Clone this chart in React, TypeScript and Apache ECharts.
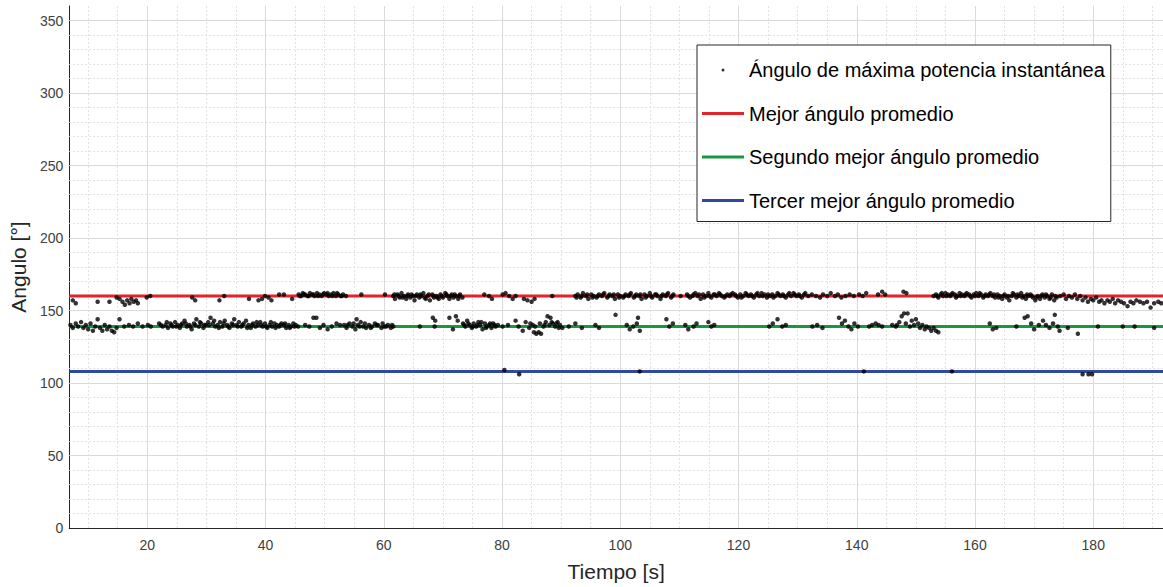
import React, { useEffect, useRef } from 'react';
import * as echarts from 'echarts';

const tituloX = 'Tiempo [s]';
const tituloY = 'Angulo [°]';
const nombreDispersion = 'Ángulo de máxima potencia instantánea';
const nombreMejor = 'Mejor ángulo promedio';
const nombreSegundo = 'Segundo mejor ángulo promedio';
const nombreTercero = 'Tercer mejor ángulo promedio';

const xMin = 6.8;
const xMax = 191.8;
const yMin = 0;
const yMax = 360;

const ticksX = [20, 40, 60, 80, 100, 120, 140, 160, 180];
const ticksY = [0, 50, 100, 150, 200, 250, 300, 350];
const rejillaMenorX = [10, 15, 25, 30, 35, 45, 50, 55, 65, 70, 75, 85, 90, 95, 105, 110, 115, 125, 130, 135, 145, 150, 155, 165, 170, 175, 185, 190];
const rejillaMenorY = [10, 20, 30, 40, 60, 70, 80, 90, 110, 120, 130, 140, 160, 170, 180, 190, 210, 220, 230, 240, 260, 270, 280, 290, 310, 320, 330, 340];

const mejorAngulo = 160;
const segundoAngulo = 139;
const tercerAngulo = 108;

const puntosMejor: [number, number][] = [
  [7.4, 157], [7.9, 155], [11.6, 156], [13.6, 156], [14.8, 159], [15.3, 158], [15.8, 156], [16.2, 154], [16.6, 157], [17.0, 155], [17.3, 158], [17.7, 156], [18.1, 157], [18.4, 155], [19.9, 159], [20.5, 160],
  [27.6, 159], [28.1, 157], [32.2, 157], [33.0, 160], [37.2, 158], [38.8, 157], [39.4, 158], [39.9, 160], [40.5, 159], [41.0, 157], [42.3, 161], [43.1, 161], [44.5, 158],
  [45.6, 161], [46.0, 160], [46.3, 162], [46.7, 161], [47.1, 160], [47.5, 162], [47.9, 161], [48.3, 160], [48.7, 162], [49.1, 161], [49.5, 160], [49.9, 162], [50.3, 161], [50.7, 160], [51.1, 161], [51.5, 162], [51.9, 160], [52.3, 161], [52.7, 160], [53.1, 161], [53.6, 160],
  [45.8, 160], [46.5, 161], [47.3, 160], [48.1, 161], [48.9, 160], [49.7, 161], [50.5, 162], [51.3, 160], [52.1, 162], [52.9, 160],
  [56.2, 161], [60.2, 161],
  [61.6, 160], [61.9, 158], [62.3, 161], [62.7, 159], [63.0, 162], [63.4, 160], [63.8, 158], [64.1, 161], [64.5, 159], [64.9, 160], [65.2, 157], [65.6, 161], [66.0, 159], [66.3, 160], [66.7, 162], [67.1, 158], [67.4, 160], [67.8, 157], [68.2, 161], [68.5, 159], [68.9, 160], [69.3, 158], [69.6, 161], [70.0, 159], [70.4, 162], [70.7, 160], [71.1, 158], [71.5, 161], [71.8, 159], [72.2, 160], [72.6, 158], [72.9, 161], [73.3, 159],
  [61.8, 161], [62.5, 160], [63.2, 159], [64.0, 160], [64.7, 161], [65.4, 160], [66.2, 161], [66.9, 159], [67.6, 161], [68.4, 160], [69.1, 159], [69.8, 160], [70.6, 161], [71.3, 160], [72.0, 161], [72.8, 160],
  [77.0, 161], [77.8, 160], [78.3, 158],
  [80.1, 161], [80.6, 162], [81.2, 160], [81.8, 158], [82.3, 160], [83.7, 158], [84.3, 157], [85.0, 156], [85.5, 158], [88.5, 160],
  [92.4, 160], [92.8, 161], [93.3, 159], [93.7, 162], [94.2, 160], [94.6, 158], [95.1, 161], [95.5, 160], [96.0, 159], [96.4, 161], [96.9, 160], [97.3, 162], [97.8, 159], [98.2, 161], [98.7, 160], [99.1, 158], [99.6, 161],
  [100.0, 160], [100.5, 159], [100.9, 161], [101.4, 160], [101.8, 162], [102.3, 159], [102.7, 161], [103.2, 160], [103.6, 158], [104.1, 161], [104.5, 160], [105.0, 162], [105.4, 159], [105.9, 161], [106.3, 160], [106.8, 158], [107.2, 161], [107.7, 160], [108.1, 162], [108.6, 159], [109.0, 161], [110.2, 160],
  [111.3, 161], [111.8, 159], [112.2, 160], [112.7, 162], [113.1, 160], [113.6, 158], [114.0, 161], [114.5, 160], [114.9, 162], [115.4, 159], [115.8, 161], [116.3, 160], [116.7, 162], [117.2, 160], [117.6, 159], [118.1, 161], [118.5, 160], [119.0, 162], [119.4, 161], [119.9, 159],
  [120.3, 161], [120.8, 160], [121.2, 162], [121.7, 160], [122.1, 161], [122.6, 159], [123.0, 161], [123.5, 160], [123.9, 162], [124.4, 161], [124.8, 159], [125.3, 160], [125.7, 161], [126.2, 160], [126.6, 162], [127.1, 160], [127.5, 161], [128.0, 159], [128.4, 161], [128.9, 160], [129.3, 162], [129.8, 160], [130.2, 161], [130.7, 159], [131.1, 161],
  [92.6, 159], [93.5, 160], [94.4, 161], [95.3, 159], [96.2, 160], [97.1, 161], [98.0, 160], [98.9, 161], [99.8, 159], [100.7, 160], [101.6, 161], [102.5, 160], [103.4, 161], [104.3, 159], [105.2, 160], [106.1, 161], [107.0, 160], [107.9, 161], [108.8, 160],
  [111.5, 160], [112.4, 161], [113.3, 161], [114.2, 159], [115.1, 160], [116.0, 161], [116.9, 161], [117.8, 160], [118.7, 161], [119.6, 160], [120.5, 159], [121.4, 161], [122.3, 160], [123.2, 162], [124.1, 160], [125.0, 161], [125.9, 159], [126.8, 161], [127.7, 160], [128.6, 162], [129.5, 161], [130.4, 160], [131.3, 162],
  [131.8, 160], [132.4, 161], [133.1, 160], [133.8, 159], [134.3, 161], [135.0, 160], [135.6, 162], [136.3, 160], [136.8, 161], [137.4, 159], [138.1, 160], [138.8, 161], [139.5, 160], [140.4, 161], [141.0, 160], [141.6, 162], [143.6, 161], [144.3, 163], [144.8, 161],
  [147.9, 163], [148.4, 162], [153.0, 160],
  [153.4, 161], [153.8, 159], [154.2, 161], [154.6, 160], [155.0, 162], [155.4, 161], [155.8, 160], [156.2, 162], [156.6, 161], [157.0, 160], [157.4, 162], [157.8, 161], [158.2, 160], [158.6, 162], [159.0, 161], [159.4, 159], [159.8, 161],
  [160.2, 162], [160.6, 160], [161.0, 161], [161.4, 159], [161.8, 161], [162.2, 160], [162.6, 162], [163.0, 160], [163.4, 159], [163.8, 161], [164.2, 160], [164.6, 158], [165.0, 161], [165.4, 159], [165.8, 157], [166.2, 160], [166.6, 161], [167.0, 159], [167.4, 160], [167.8, 162], [168.2, 160], [168.6, 158], [169.0, 160], [169.4, 161], [169.8, 159],
  [153.6, 160], [154.4, 162], [155.2, 160], [156.0, 161], [156.8, 159], [157.6, 160], [158.4, 161], [159.2, 160], [160.0, 160], [160.8, 162], [161.6, 160], [162.4, 161], [163.2, 161], [164.0, 159], [164.8, 160], [165.6, 160], [166.4, 162], [167.2, 161], [168.0, 159], [168.8, 161], [169.6, 160], [170.4, 159], [171.2, 160], [172.0, 161], [172.8, 159], [173.6, 160],
  [170.2, 157], [170.6, 160], [171.0, 158], [171.4, 161], [171.8, 159], [172.2, 160], [172.6, 158], [173.0, 161], [173.4, 157], [173.8, 159], [174.4, 160], [175.0, 161], [175.4, 158], [175.9, 160], [176.4, 159], [176.9, 161],
  [177.3, 158], [177.8, 160], [178.2, 157], [178.7, 159], [179.1, 156], [179.6, 158], [180.0, 157], [180.5, 159], [181.0, 156], [181.4, 157], [181.9, 155], [182.4, 157], [182.8, 156], [183.3, 158], [183.7, 155], [184.2, 157], [184.7, 156], [185.2, 155], [185.8, 153], [186.3, 156], [186.8, 155], [187.3, 157], [187.9, 156], [188.5, 155], [189.1, 156], [189.7, 152], [190.3, 155], [191.0, 156], [191.5, 155],
];

const puntosSegundo: [number, number][] = [
  [7.0, 140], [7.4, 138], [7.9, 141], [8.3, 139], [8.8, 142], [9.2, 138], [9.6, 140], [10.0, 137], [10.4, 141], [10.8, 136], [11.2, 139], [11.6, 144], [12.0, 138], [12.4, 136], [12.8, 140], [13.2, 137], [13.6, 139], [14.0, 136], [14.4, 135], [14.8, 138], [15.3, 144], [16.1, 139], [16.9, 140], [17.6, 139], [18.4, 141], [19.2, 139], [20.1, 140], [20.6, 139],
  [22.0, 141], [22.6, 139], [23.1, 140], [23.5, 138], [23.9, 141], [24.3, 139], [24.7, 142], [25.1, 140], [25.5, 138], [25.9, 141], [26.3, 143], [26.7, 139], [27.1, 140], [27.5, 137], [27.9, 141], [28.3, 144], [28.7, 139], [29.1, 141], [29.5, 138], [29.9, 140],
  [30.3, 142], [30.7, 145], [31.1, 141], [31.5, 139], [31.9, 140], [32.3, 142], [32.7, 139], [33.1, 143], [33.5, 140], [33.9, 138], [34.3, 141], [34.7, 144], [35.1, 140], [35.5, 142], [35.9, 139], [36.3, 141], [36.7, 143], [37.1, 140], [37.5, 138], [37.9, 141], [38.3, 139], [38.7, 140], [39.1, 142], [39.5, 139], [39.9, 141],
  [40.3, 138], [40.7, 140], [41.1, 139], [41.5, 141], [41.9, 140], [42.3, 139], [42.7, 141], [43.1, 140], [43.5, 138], [43.9, 140], [44.3, 139], [44.7, 141], [45.1, 140], [45.5, 139],
  [22.3, 140], [23.3, 142], [24.1, 140], [24.9, 139], [25.7, 140], [26.5, 141], [27.3, 139], [28.1, 140], [28.9, 142], [29.7, 140], [30.5, 140], [31.3, 143], [32.1, 138], [32.9, 141], [33.7, 139], [34.5, 140], [35.3, 139], [36.1, 140], [36.9, 138], [37.7, 140], [38.5, 142], [39.3, 140], [40.1, 139], [40.9, 142], [41.7, 138], [42.5, 140], [43.3, 141], [44.1, 138], [44.9, 139],
  [46.7, 140], [47.4, 139], [48.1, 145], [48.6, 145], [49.2, 138], [49.8, 140], [50.5, 137], [51.2, 139], [52.0, 141], [52.6, 140], [53.3, 140],
  [53.7, 138], [54.2, 141], [54.7, 139], [55.2, 137], [55.4, 144], [55.6, 140], [56.1, 142], [56.5, 139], [57.0, 138], [57.5, 140], [58.0, 139], [58.5, 141], [59.0, 140], [59.6, 138], [60.1, 139], [60.7, 140], [61.2, 138], [61.6, 139],
  [53.9, 140], [54.9, 141], [55.9, 139], [56.8, 141], [57.8, 138], [58.8, 140], [59.8, 141], [60.4, 139], [61.4, 140],
  [66.1, 139], [68.3, 145], [68.7, 143], [68.6, 139], [71.1, 145], [71.7, 137], [72.2, 146], [72.5, 143],
  [73.4, 141], [73.8, 139], [74.1, 143], [74.5, 140], [74.9, 138], [75.2, 141], [75.6, 139], [76.0, 142], [76.3, 140], [76.7, 137], [77.1, 141], [77.4, 139], [77.8, 140], [78.2, 138], [78.5, 141], [78.9, 139], [79.3, 140],
  [73.6, 140], [74.3, 141], [75.0, 139], [75.8, 140], [76.5, 142], [77.3, 138], [78.0, 141], [78.7, 140],
  [80.1, 139], [81.0, 140], [82.3, 143], [82.8, 139], [83.5, 136], [84.0, 142], [84.6, 138], [85.2, 140], [85.4, 135], [85.8, 134], [86.2, 135], [86.6, 134], [86.4, 141], [87.0, 139], [87.4, 142], [87.7, 146], [88.2, 145], [88.0, 140], [88.6, 141], [89.0, 139], [89.4, 142], [89.8, 140], [90.2, 138],
  [84.8, 141], [85.6, 139], [87.2, 140], [88.4, 142], [89.2, 141], [89.6, 138],
  [91.3, 139], [92.4, 141], [93.5, 138], [95.8, 140], [96.4, 138], [99.2, 147],
  [101.1, 140], [101.6, 137], [102.2, 139], [102.8, 141], [103.3, 136], [103.0, 145], [107.8, 144], [108.3, 139], [108.9, 141], [111.0, 140], [111.5, 137], [112.4, 139], [112.9, 141], [114.9, 142], [115.4, 139], [115.9, 140],
  [125.2, 139], [125.8, 141], [126.6, 144], [127.4, 139], [128.0, 140], [132.5, 139], [133.3, 140], [134.2, 138],
  [137.0, 145], [137.5, 141], [138.0, 143], [138.6, 139], [139.1, 137], [139.6, 141], [140.2, 139], [142.1, 139], [142.6, 140], [143.2, 141], [143.7, 140], [144.3, 139], [146.0, 140], [146.6, 139],
  [146.8, 140], [147.2, 142], [147.6, 146], [148.0, 148], [148.3, 141], [148.6, 148], [149.0, 139], [149.3, 143], [149.7, 140], [150.0, 144], [150.4, 141], [150.7, 138], [151.1, 140], [151.5, 137], [151.8, 139], [152.2, 138], [152.6, 136], [153.0, 138], [153.4, 136], [153.8, 135],
  [162.5, 141], [163.0, 137], [163.6, 138], [167.0, 139], [168.4, 145], [168.9, 146], [169.5, 141], [170.0, 137], [170.8, 140], [171.5, 143], [172.0, 140], [172.6, 138], [173.2, 141], [173.5, 147], [174.0, 139], [174.3, 136],
  [175.7, 138], [177.4, 134], [180.8, 139], [185.0, 139], [187.0, 139], [190.3, 138],
];

const puntosTercero: [number, number][] = [
  [80.4, 109], [82.9, 106], [103.3, 108], [141.2, 108], [156.1, 108], [178.2, 106], [179.2, 106], [179.8, 106],
];

const colorRojo = '#e3232b';
const colorVerde = '#17973f';
const colorAzul = '#2f4a9c';
const colorTexto = '#262626';
const colorEtiquetas = '#404040';
const fuente = 'Liberation Sans, Arial, sans-serif';

const iconoPunto = 'path://M0 0M42 24M19.5 12A1.5 1.5 0 1 1 22.5 12A1.5 1.5 0 1 1 19.5 12Z';
const iconoLinea = 'path://M0 0M42 24M0 10.5L42 10.5L42 13.5L0 13.5Z';

function App() {
  const ref = useRef<HTMLDivElement>(null);
  useEffect(() => {
    if (!ref.current) return;
    const chart = echarts.init(ref.current, undefined, { renderer: 'svg' });
    const rejilla = [
      ...rejillaMenorX.map((v) => ({ xAxis: v, lineStyle: { color: '#e2e2e2', width: 1, type: [2, 2] } })),
      ...rejillaMenorY.map((v) => ({ yAxis: v, lineStyle: { color: '#e2e2e2', width: 1, type: [2, 2] } })),
      ...ticksX.map((v) => ({ xAxis: v, lineStyle: { color: '#dadada', width: 1, type: 'solid' } })),
      ...ticksY.filter((v) => v > 0).map((v) => ({ yAxis: v, lineStyle: { color: '#dadada', width: 1, type: 'solid' } })),
    ];
    const linea = (nombre: string, valor: number, color: string) => ({
      name: nombre,
      type: 'line',
      data: [[xMin, valor], [xMax, valor]],
      symbol: 'none',
      showSymbol: false,
      lineStyle: { color, width: 3 },
      itemStyle: { color },
      z: 6,
      silent: true,
    });
    chart.setOption({
      animation: false,
      backgroundColor: '#ffffff',
      textStyle: { fontFamily: fuente },
      grid: { left: 65, right: 0, top: 6, bottom: 58.3, containLabel: false },
      legend: {
        orient: 'vertical',
        left: 697,
        top: 45,
        z: 20,
        backgroundColor: '#ffffff',
        borderColor: colorTexto,
        borderWidth: 1,
        padding: [13, 6, 9, 5],
        itemWidth: 42,
        itemHeight: 24,
        itemGap: 19.5,
        selectedMode: false,
        textStyle: { fontSize: 20, color: '#000000', fontFamily: fuente, lineHeight: 24 },
        data: [
          { name: nombreDispersion, icon: iconoPunto },
          { name: nombreMejor, icon: iconoLinea },
          { name: nombreSegundo, icon: iconoLinea },
          { name: nombreTercero, icon: iconoLinea },
        ],
      },
      xAxis: {
        type: 'value',
        min: xMin,
        max: xMax,
        name: tituloX,
        nameLocation: 'middle',
        nameGap: 33,
        nameTextStyle: { fontSize: 21, color: colorTexto, fontFamily: fuente },
        axisLine: { show: true, onZero: false, lineStyle: { color: colorTexto, width: 1 } },
        axisTick: { show: true, inside: true, length: 11, customValues: ticksX, lineStyle: { color: colorTexto } },
        axisLabel: { customValues: ticksX, fontSize: 14, color: colorEtiquetas, margin: 10, fontFamily: fuente },
        splitLine: { show: false },
      },
      yAxis: {
        type: 'value',
        min: yMin,
        max: yMax,
        name: tituloY,
        nameLocation: 'middle',
        nameRotate: 90,
        nameGap: 35,
        nameTextStyle: { fontSize: 21, color: colorTexto, fontFamily: fuente },
        axisLine: { show: true, onZero: false, lineStyle: { color: colorTexto, width: 1 } },
        axisTick: { show: true, inside: true, length: 11, customValues: ticksY, lineStyle: { color: colorTexto } },
        axisLabel: { customValues: ticksY, fontSize: 14, color: colorEtiquetas, margin: 6, fontFamily: fuente },
        splitLine: { show: false },
      },
      series: [
        {
          name: 'rejilla',
          type: 'line',
          data: [],
          z: 1,
          silent: true,
          markLine: {
            z: 1,
            silent: true,
            symbol: ['none', 'none'],
            label: { show: false },
            emphasis: { disabled: true },
            animation: false,
            data: rejilla,
          },
        },
        linea(nombreMejor, mejorAngulo, colorRojo),
        linea(nombreSegundo, segundoAngulo, colorVerde),
        linea(nombreTercero, tercerAngulo, colorAzul),
        {
          name: nombreDispersion,
          type: 'scatter',
          data: [...puntosMejor, ...puntosSegundo, ...puntosTercero],
          symbol: 'circle',
          symbolSize: 4.5,
          itemStyle: { color: '#000000' },
          z: 8,
          silent: true,
        },
      ],
    });
    return () => chart.dispose();
  }, []);
  return <div ref={ref} style={{ position: 'fixed', left: 0, top: 0, width: 1163, height: 587, background: '#fff' }} />;
}

export default App;
